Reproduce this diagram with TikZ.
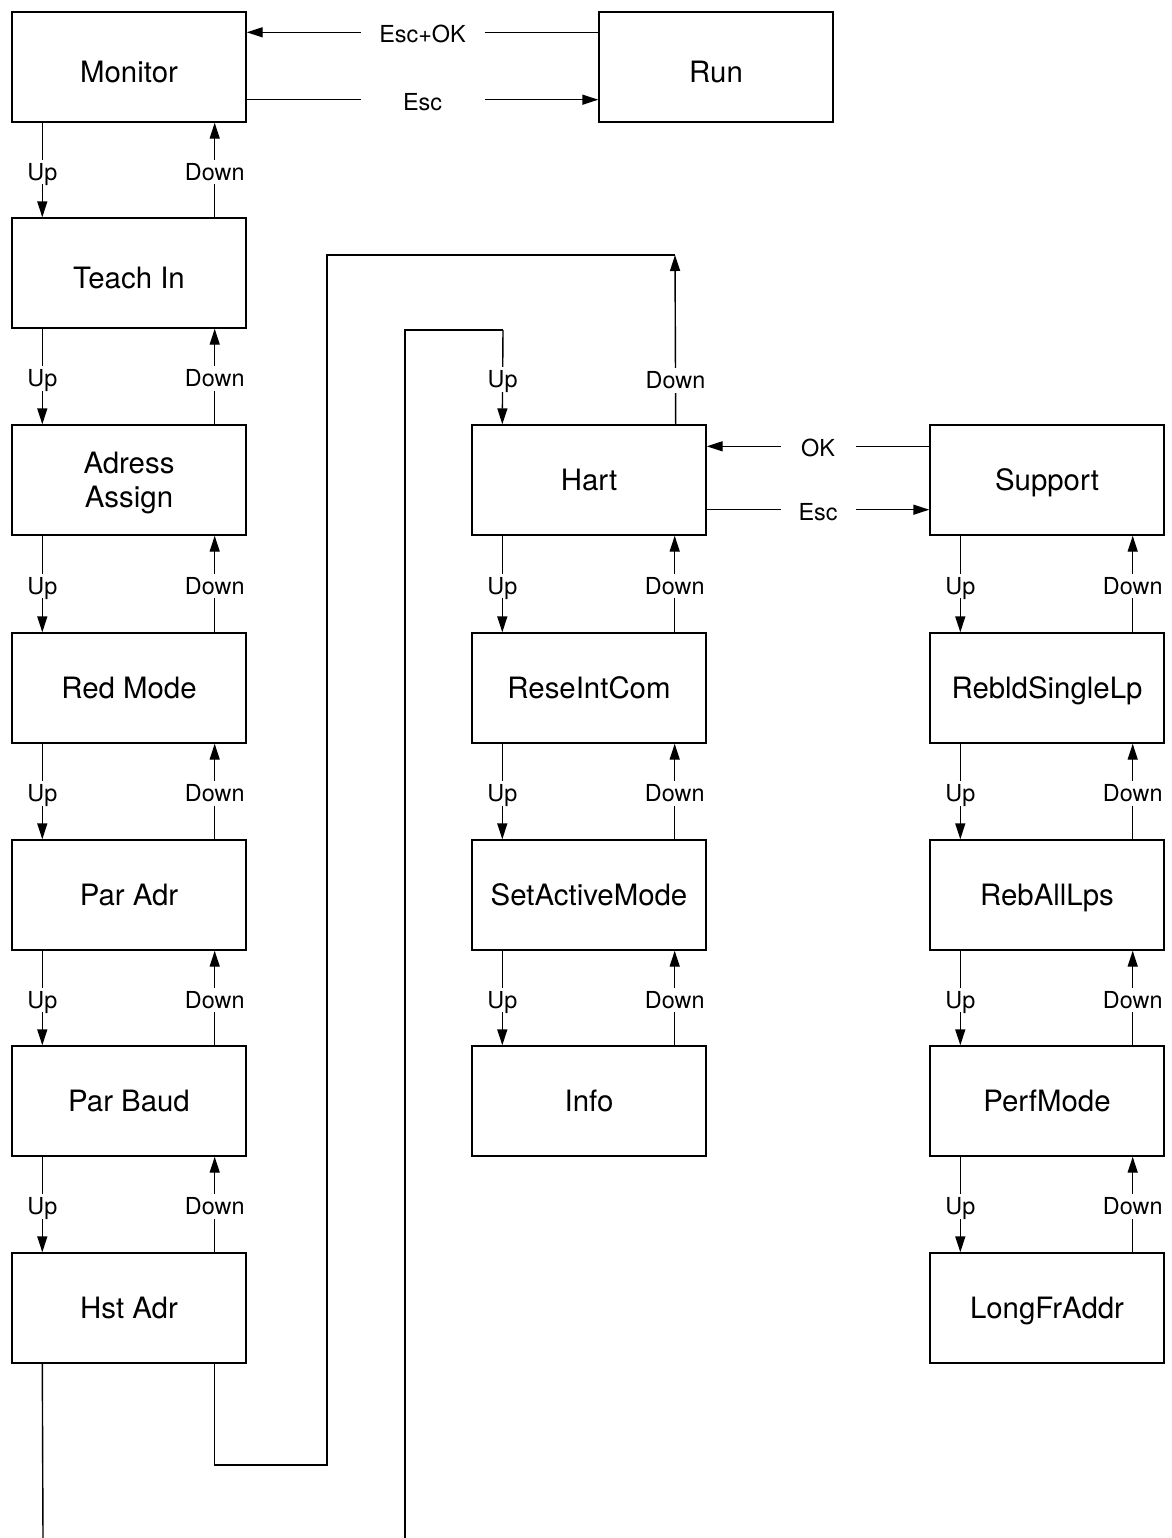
\documentclass[tikz,border=0pt]{standalone}
\usepackage{fontspec}
\setmainfont{TeX Gyre Heros}
\usetikzlibrary{arrows.meta}
\begin{document}
\begin{tikzpicture}[x=0.5pt,y=-0.5pt,line width=0.7pt,
    menu/.style={draw,minimum width=117pt,minimum height=55pt,inner sep=0pt,align=center,
      text height=10.6pt,text depth=0pt,font=\fontsize{14.7}{17}\selectfont},
    low/.style={text height=15.6pt},
    lbl/.style={fill=white,inner sep=2pt,text height=8.4pt,text depth=0pt,yshift=-1pt,
      font=\fontsize{11.7}{13}\selectfont},
    >={Triangle[length=8pt,width=5pt]}]
\useasboundingbox (0,0) rectangle (1172,1538);
\node[menu,low] (monitor) at (129,67) {Monitor};
\node[menu,low] (run) at (716,67) {Run};
\node[menu,low] (teach) at (129,273) {Teach In};
\node[menu,text height=27.6pt] (adress) at (129,480) {Adress\\Assign};
\node[menu] (redmode) at (129,688) {Red Mode};
\node[menu] (paradr) at (129,895) {Par Adr};
\node[menu] (parbaud) at (129,1101) {Par Baud};
\node[menu] (hstadr) at (129,1308) {Hst Adr};
\node[menu] (hart) at (589,480) {Hart};
\node[menu] (reseint) at (589,688) {ReseIntCom};
\node[menu] (setactive) at (589,895) {SetActiveMode};
\node[menu] (info) at (589,1101) {Info};
\node[menu] (support) at (1047,480) {Support};
\node[menu] (rebld) at (1047,688) {RebldSingleLp};
\node[menu] (reball) at (1047,895) {RebAllLps};
\node[menu] (perfmode) at (1047,1101) {PerfMode};
\node[menu] (longfr) at (1047,1308) {LongFrAddr};
\foreach \a/\b in {monitor/teach,teach/adress,adress/redmode,redmode/paradr,paradr/parbaud,parbaud/hstadr,
    hart/reseint,reseint/setactive,setactive/info,support/rebld,rebld/reball,reball/perfmode,perfmode/longfr}{
  \draw[->] ([xshift=15.5pt]\a.south west) -- node[lbl]{Up} ([xshift=15.5pt]\b.north west);
  \draw[->] ([xshift=-16pt]\b.north east) -- node[lbl]{Down} ([xshift=-16pt]\a.south east);
}
\draw[->] ([yshift=-10.5pt]run.north west) -- node[lbl,minimum width=62pt]{Esc+OK} ([yshift=-10.5pt]monitor.north east);
\draw[->] ([yshift=11.5pt]monitor.south east) -- node[lbl,minimum width=62pt]{Esc} ([yshift=11.5pt]run.south west);
\draw[->] ([yshift=-11pt]support.north west) -- node[lbl,minimum width=37.5pt]{OK} ([yshift=-11pt]hart.north east);
\draw[->] ([yshift=13pt]hart.south east) -- node[lbl,minimum width=37.5pt]{Esc} ([yshift=13pt]support.south west);
\coordinate (hartdown) at (675,255);
\coordinate (hartturn) at (503,330);
\coordinate (hartin) at (405,1538);
\coordinate (hstout) at (43,1538);
\draw[->] ([xshift=-15.5pt]hart.north east) -- node[lbl,pos=0.27]{Down} (hartdown);
\draw (hartdown) -| (327,1465) -| ([xshift=-16pt]hstadr.south east);
\draw (hartin) |- (hartturn);
\draw[->] (hartturn) -- node[lbl]{Up} ([xshift=15.5pt]hart.north west);
\draw ([xshift=15.5pt]hstadr.south west) -- (hstout);
\end{tikzpicture}
\end{document}
